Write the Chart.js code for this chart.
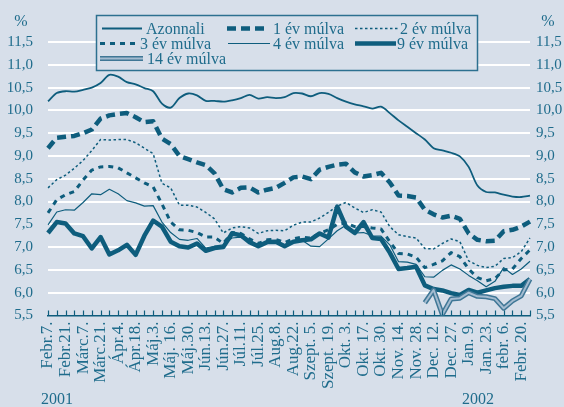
<!DOCTYPE html>
<html>
<head>
<meta charset="utf-8">
<script src="https://cdn.jsdelivr.net/npm/chart.js@4.4.1/dist/chart.umd.min.js"></script>
<style>
  html, body { margin: 0; padding: 0; background: #d7dfea; }
  #wrap { position: relative; width: 564px; height: 407px; }
</style>
</head>
<body>
<div id="wrap"><canvas id="yieldChart" width="564" height="407"></canvas></div>
<script>
// tick labels, one every second week
const tickLabels = [
  'Febr.7.', 'Febr.21.', 'Márc.7.', 'Márc.21.', 'Ápr.4.', 'Ápr.18.', 'Máj.3.',
  'Máj. 16.', 'Máj.30.', 'Jún.13.', 'Jún.27.', 'Júl.11.', 'Júl.25.', 'Aug.8.',
  'Aug.22.', 'Szept. 5.', 'Szept. 19.', 'Okt. 3.', 'Okt. 17.', 'Okt. 30.', 'Nov. 14.',
  'Nov. 28.', 'Dec. 12.', 'Dec. 27.', 'Jan. 9.', 'Jan. 23.', 'febr. 6.', 'Febr. 20.'
];
const yearLabels = ['2001', '2002'];

const azonnali = [
  10.20, 10.38, 10.42, 10.41, 10.45, 10.50, 10.60, 10.78, 10.74, 10.62,
  10.57, 10.49, 10.42, 10.15, 10.06, 10.27, 10.37, 10.33, 10.21, 10.21,
  10.19, 10.22, 10.27, 10.34, 10.26, 10.29, 10.27, 10.29, 10.38, 10.37,
  10.31, 10.38, 10.36, 10.27, 10.19, 10.13, 10.09, 10.04, 10.08, 9.94,
  9.78, 9.64, 9.50, 9.36, 9.17, 9.12, 9.07, 8.99, 8.76, 8.35,
  8.21, 8.20, 8.15, 8.11, 8.10, 8.13
];
const ev1 = [
  9.17, 9.40, 9.42, 9.44, 9.50, 9.58, 9.82, 9.89, 9.92, 9.94,
  9.85, 9.74, 9.76, 9.38, 9.26, 9.00, 8.93, 8.86, 8.80, 8.62,
  8.27, 8.20, 8.30, 8.31, 8.20, 8.26, 8.30, 8.41, 8.53, 8.55,
  8.49, 8.70, 8.76, 8.81, 8.83, 8.64, 8.55, 8.58, 8.63, 8.42,
  8.13, 8.12, 8.09, 7.82, 7.72, 7.65, 7.69, 7.62, 7.30, 7.16,
  7.13, 7.14, 7.35, 7.38, 7.45, 7.56
];
const ev2 = [
  8.30, 8.48, 8.58, 8.73, 8.90, 9.12, 9.36, 9.35, 9.36, 9.36,
  9.29, 9.17, 9.05, 8.40, 8.30, 7.92, 7.92, 7.88, 7.76, 7.62,
  7.31, 7.42, 7.45, 7.42, 7.30, 7.36, 7.37, 7.36, 7.48, 7.55,
  7.55, 7.64, 7.76, 7.90, 7.98, 7.86, 7.76, 7.82, 7.77, 7.45,
  7.27, 7.23, 7.20, 6.97, 6.96, 7.08, 7.18, 7.12, 6.70, 6.60,
  6.55, 6.58, 6.75, 6.77, 6.90, 7.20
];
const ev3 = [
  7.75, 8.04, 8.15, 8.22, 8.47, 8.69, 8.76, 8.77, 8.74, 8.63,
  8.52, 8.41, 8.32, 7.95, 7.55, 7.38, 7.37, 7.32, 7.22, 7.22,
  7.08, 7.32, 7.30, 7.18, 7.08, 7.16, 7.17, 7.10, 7.18, 7.22,
  7.20, 7.30, 7.38, 7.50, 7.53, 7.45, 7.45, 7.42, 7.40, 7.12,
  6.86, 6.85, 6.78, 6.55, 6.62, 6.70, 6.88, 6.79, 6.52, 6.33,
  6.26, 6.31, 6.50, 6.52, 6.75, 6.94
];
const ev4 = [
  7.49, 7.77, 7.82, 7.81, 7.98, 8.17, 8.15, 8.27, 8.17, 8.02,
  7.97, 7.90, 7.91, 7.55, 7.32, 7.17, 7.15, 7.19, 6.98, 7.02,
  7.05, 7.20, 7.22, 7.12, 7.05, 7.12, 7.12, 7.05, 7.12, 7.15,
  7.02, 7.01, 7.18, 7.36, 7.48, 7.31, 7.32, 7.25, 7.24, 7.05,
  6.68, 6.67, 6.62, 6.35, 6.34, 6.49, 6.61, 6.52, 6.38, 6.26,
  6.13, 6.25, 6.55, 6.40, 6.52, 6.69
];
const ev9 = [
  7.31, 7.55, 7.52, 7.30, 7.24, 6.97, 7.22, 6.84, 6.93, 7.05,
  6.83, 7.25, 7.58, 7.45, 7.12, 7.02, 6.99, 7.08, 6.92, 6.98,
  7.00, 7.30, 7.26, 7.11, 7.02, 7.11, 7.12, 7.02, 7.12, 7.15,
  7.17, 7.30, 7.21, 7.89, 7.45, 7.31, 7.55, 7.20, 7.18, 6.88,
  6.52, 6.54, 6.57, 6.16, 6.08, 6.05, 5.99, 5.95, 6.06, 6.00,
  6.05, 6.10, 6.13, 6.15, 6.15, 6.30
];
const ev14 = [
  null, null, null, null, null, null, null, null, null, null,
  null, null, null, null, null, null, null, null, null, null,
  null, null, null, null, null, null, null, null, null, null,
  null, null, null, null, null, null, null, null, null, null,
  null, null, null, 5.78, 6.06, 5.52, 5.86, 5.88, 6.00, 5.92,
  5.91, 5.87, 5.66, 5.82, 5.93, 6.30
];

// one category per week, only every second one is labelled
const weekLabels = tickLabels.flatMap(l => [l, '']);

const lineCol = '#0e5d7d';
const textCol = '#1f6c8c';
const font = 'Liberation Serif';

const fmt = v => v.toFixed(1).replace('.', ',');

// short tick marks pointing up into the plot, plus the % and year texts
const decorPlugin = {
  id: 'decor',
  afterDraw(chart) {
    const { ctx, scales: { x }, chartArea } = chart;
    ctx.save();
    ctx.strokeStyle = lineCol;
    ctx.lineWidth = 1.2;
    for (let i = 0; i < weekLabels.length; i++) {
      const px = Math.round(x.getPixelForValue(i)) + 0.5;
      ctx.beginPath();
      ctx.moveTo(px, chartArea.bottom);
      ctx.lineTo(px, chartArea.bottom - 5);
      ctx.stroke();
    }
    ctx.fillStyle = textCol;
    ctx.font = '16px "' + font + '"';
    ctx.textAlign = 'center';
    ctx.fillText('%', 21, 26);
    ctx.fillText('%', 548, 26);
    ctx.fillText(yearLabels[0], 57, 404);
    ctx.fillText(yearLabels[1], 478, 404);
    ctx.restore();
  }
};

// legend laid out in columns like the original
const legendPlugin = {
  id: 'colLegend',
  afterDraw(chart) {
    const { ctx } = chart;
    const ds = chart.data.datasets;
    const items = [
      { d: 0, x1: 102, x2: 142, y: 28.5, tx: 146, label: 'Azonnali' },
      { d: 1, x1: 227, x2: 268, y: 28.5, tx: 273, label: '1 év múlva' },
      { d: 2, x1: 355, x2: 398, y: 28.5, tx: 400, label: '2 év múlva' },
      { d: 3, x1: 100, x2: 136, y: 43.5, tx: 140, label: '3 év múlva' },
      { d: 4, x1: 228, x2: 270, y: 43.5, tx: 273, label: '4 év múlva' },
      { d: 5, x1: 355, x2: 396, y: 43.5, tx: 397, label: '9 év múlva' },
      { d: 6, x1: 100, x2: 143, y: 58.5, tx: 147, label: '14 év múlva' }
    ];
    ctx.save();
    ctx.fillStyle = '#d7dfea';
    ctx.fillRect(96.5, 15.5, 381, 55);
    ctx.strokeStyle = '#2c7090';
    ctx.lineWidth = 1.5;
    ctx.strokeRect(96.5, 15.5, 381, 55);
    items.forEach(it => {
      const layers = it.d === 6 ? [ds[6], ds[7]] : [ds[it.d]];
      layers.forEach(l => {
        ctx.beginPath();
        ctx.setLineDash(l.borderDash || []);
        ctx.strokeStyle = l.borderColor;
        ctx.lineWidth = l.borderWidth;
        ctx.moveTo(it.x1, it.y);
        ctx.lineTo(it.x2, it.y);
        ctx.stroke();
      });
      ctx.setLineDash([]);
      ctx.fillStyle = textCol;
      ctx.font = '16px "' + font + '"';
      ctx.textBaseline = 'alphabetic';
      ctx.fillText(it.label, it.tx, it.y + 5.5);
    });
    ctx.restore();
  }
};

const ctx = document.getElementById('yieldChart').getContext('2d');
new Chart(ctx, {
  type: 'line',
  data: {
    labels: weekLabels,
    datasets: [
      { label: 'Azonnali', data: azonnali, borderColor: lineCol, borderWidth: 1.8, tension: 0.3, order: 6 },
      { label: '1 év múlva', data: ev1, borderColor: lineCol, borderWidth: 4.5, borderDash: [9, 5], order: 5 },
      { label: '2 év múlva', data: ev2, borderColor: lineCol, borderWidth: 1.5, borderDash: [2.5, 2.5], order: 4 },
      { label: '3 év múlva', data: ev3, borderColor: lineCol, borderWidth: 3, borderDash: [5, 5], order: 3 },
      { label: '4 év múlva', data: ev4, borderColor: lineCol, borderWidth: 1.2, order: 7 },
      { label: '9 év múlva', data: ev9, borderColor: lineCol, borderWidth: 4.5, order: 2 },
      // 14 év: drawn as a light line with a darker outline
      { label: '14 év múlva', data: ev14, borderColor: '#3f7796', borderWidth: 5, order: 1 },
      { label: '', data: ev14, borderColor: '#a3bbd0', borderWidth: 2, order: 0 }
    ]
  },
  options: {
    responsive: false,
    animation: false,
    layout: { padding: { top: 42, left: 0, right: 0, bottom: 0 } },
    elements: { point: { radius: 0 }, line: { borderCapStyle: 'butt', borderJoinStyle: 'round' } },
    plugins: { legend: { display: false }, tooltip: { enabled: false } },
    scales: {
      x: {
        offset: false,
        afterFit(scale) { scale.height = 91.5; },
        grid: { display: true, drawOnChartArea: false, drawTicks: false },
        border: { display: true, color: lineCol, width: 1.5 },
        ticks: {
          autoSkip: false, maxRotation: 90, minRotation: 90, padding: 6,
          color: textCol, font: { family: font, size: 17 }
        }
      },
      y: {
        position: 'left',
        min: 5.5, max: 11.5,
        afterFit(scale) { scale.width = 48; },
        grid: {
          color: c => (c.tick && c.tick.value === 5.5 ? 'rgba(0,0,0,0)' : '#ffffff'),
          lineWidth: 2, drawTicks: false
        },
        border: { display: false },
        ticks: {
          stepSize: 0.5, padding: 15, color: textCol,
          font: { family: font, size: 15 },
          callback: v => fmt(v)
        }
      },
      y2: {
        position: 'right',
        min: 5.5, max: 11.5,
        afterFit(scale) { scale.width = 34; },
        grid: { drawOnChartArea: false, drawTicks: false },
        border: { display: false },
        ticks: {
          stepSize: 0.5, padding: 6, color: textCol,
          font: { family: font, size: 15 },
          callback: v => fmt(v)
        }
      }
    }
  },
  plugins: [decorPlugin, legendPlugin]
});
</script>
</body>
</html>
